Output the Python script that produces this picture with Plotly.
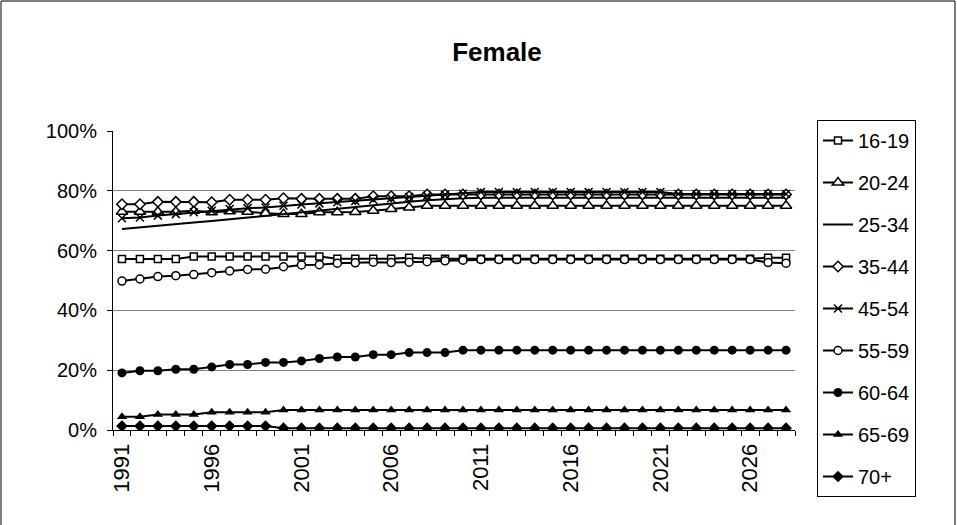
import plotly.graph_objects as go

years = list(range(1991, 2029))

s16_19 = [57.2, 57.2, 57.2, 57.2, 58.0, 58.0, 58.0, 58.0, 58.0, 58.0, 58.0, 58.0,
          57.3, 57.3, 57.3, 57.3, 57.6, 57.3, 57.3, 57.3, 57.3, 57.3, 57.3, 57.3,
          57.3, 57.3, 57.3, 57.3, 57.3, 57.3, 57.3, 57.3, 57.3, 57.3, 57.3, 57.3,
          57.6, 57.6]
s20_24 = [73.0, 73.0, 73.0, 73.0, 73.3, 72.8, 73.2, 73.0, 72.5, 72.2, 72.2, 72.8,
          72.8, 72.9, 73.3, 73.9, 74.4, 75.0, 75.0, 75.0, 75.0, 75.0, 75.0, 75.0,
          75.0, 75.0, 75.0, 75.0, 75.0, 75.0, 75.0, 75.0, 75.0, 75.0, 75.0, 75.0,
          75.0, 75.0]
s25_34 = [67.2, 67.8, 68.3, 68.8, 69.4, 69.9, 70.5, 71.0, 71.6, 72.1, 72.8, 73.4,
          74.0, 74.6, 75.2, 75.8, 76.3, 76.8, 77.2, 77.5, 77.7, 77.7, 77.7, 77.7,
          77.7, 77.7, 77.7, 77.7, 77.7, 77.7, 77.7, 77.7, 77.7, 77.7, 77.7, 77.7,
          77.7, 77.7]
s35_44 = [75.5, 75.5, 76.3, 76.3, 76.3, 76.2, 77.0, 77.0, 77.0, 77.5, 77.3, 77.3,
          77.3, 77.3, 78.2, 78.2, 78.2, 78.8, 78.8, 78.8, 78.8, 78.8, 78.8, 78.8,
          78.8, 78.8, 78.8, 78.8, 78.8, 78.8, 78.8, 78.8, 78.8, 78.8, 78.8, 78.8,
          78.8, 78.8]
s45_54 = [70.8, 71.1, 71.7, 72.2, 72.8, 73.3, 73.9, 74.2, 74.4, 75.0, 75.4, 75.8,
          76.2, 76.6, 77.0, 77.5, 77.9, 78.3, 78.7, 79.0, 79.6, 79.6, 79.6, 79.6,
          79.6, 79.6, 79.6, 79.6, 79.6, 79.6, 79.6, 78.9, 78.9, 78.9, 78.9, 78.9,
          78.9, 78.9]
s55_59 = [49.8, 50.5, 51.3, 51.6, 52.0, 52.6, 53.2, 53.7, 53.8, 54.6, 55.2, 55.3,
          55.8, 55.9, 56.1, 56.0, 56.1, 56.3, 56.6, 56.8, 57.0, 57.0, 57.0, 57.0,
          57.0, 57.0, 57.0, 57.0, 57.0, 57.0, 57.0, 57.0, 57.0, 57.0, 57.0, 57.0,
          56.0, 55.8]
s60_64 = [19.1, 19.8, 19.8, 20.3, 20.3, 21.1, 21.9, 21.9, 22.6, 22.6, 23.1, 23.9,
          24.4, 24.4, 25.2, 25.2, 25.9, 25.9, 25.9, 26.7, 26.7, 26.7, 26.7, 26.7,
          26.7, 26.7, 26.7, 26.7, 26.7, 26.7, 26.7, 26.7, 26.7, 26.7, 26.7, 26.7,
          26.7, 26.7]
s65_69 = [4.4, 4.4, 5.2, 5.2, 5.2, 5.9, 5.9, 5.9, 5.9, 6.7, 6.7, 6.7,
          6.7, 6.7, 6.7, 6.7, 6.7, 6.7, 6.7, 6.7, 6.7, 6.7, 6.7, 6.7,
          6.7, 6.7, 6.7, 6.7, 6.7, 6.7, 6.7, 6.7, 6.7, 6.7, 6.7, 6.7,
          6.7, 6.7]
s70p = [1.3, 1.3, 1.3, 1.3, 1.3, 1.3, 1.3, 1.3, 1.3, 0.6, 0.6, 0.6,
        0.6, 0.6, 0.6, 0.6, 0.6, 0.6, 0.6, 0.6, 0.6, 0.6, 0.6, 0.6,
        0.6, 0.6, 0.6, 0.6, 0.6, 0.6, 0.6, 0.6, 0.6, 0.6, 0.6, 0.6,
        0.6, 0.6]

series_names = ["16-19", "20-24", "25-34", "35-44", "45-54", "55-59", "60-64", "65-69", "70+"]
series_values = [s16_19, s20_24, s25_34, s35_44, s45_54, s55_59, s60_64, s65_69, s70p]
x_tick_years = [1991, 1996, 2001, 2006, 2011, 2016, 2021, 2026]
y_ticks = [0, 0.2, 0.4, 0.6, 0.8, 1.0]

styles = {
    "16-19": dict(symbol="square", size=7, color="white", line=dict(color="black", width=1.5)),
    "20-24": dict(symbol="triangle-up", size=10, color="white", line=dict(color="black", width=1.5)),
    "25-34": None,
    "35-44": dict(symbol="diamond", size=8, color="white", line=dict(color="black", width=1.5)),
    "45-54": dict(symbol="x-thin", size=8, color="black", line=dict(color="black", width=1.5)),
    "55-59": dict(symbol="circle", size=8, color="white", line=dict(color="black", width=1.5)),
    "60-64": dict(symbol="circle", size=9, color="black", line=dict(color="black", width=0)),
    "65-69": dict(symbol="triangle-up", size=9, color="black", line=dict(color="black", width=0)),
    "70+": dict(symbol="diamond", size=9, color="black", line=dict(color="black", width=0)),
}

FONT = "Arial, Liberation Sans, sans-serif"
cats = [str(y) for y in years]
fig = go.Figure()
for name, vals in zip(series_names, series_values):
    st = styles[name]
    fig.add_trace(go.Scatter(
        x=cats, y=[v / 100 for v in vals], name=name, legendgroup=name,
        mode="lines" if st is None else "lines+markers",
        line=dict(color="black", width=2),
        marker=st if st is not None else None,
    ))

W, H = 957, 525
L, R, T, B = 113, 162, 131, 95
pw, ph = W - L - R, H - T - B

tick_text = [c if int(c) in x_tick_years else "" for c in cats]

fig.update_layout(
    width=W, height=H,
    margin=dict(l=L, r=R, t=T, b=B),
    paper_bgcolor="white", plot_bgcolor="white",
    font=dict(family=FONT, size=20, color="black"),
    title=dict(text="<b>Female</b>", x=497 / W, xref="container", xanchor="center",
               y=1 - 52 / H, yref="container", yanchor="middle",
               font=dict(family=FONT, size=26, color="black")),
    showlegend=True,
    legend=dict(x=(817 - L) / pw, xanchor="left", y=(H - B - 120) / ph, yanchor="top",
                bordercolor="black", borderwidth=1, bgcolor="white",
                font=dict(family=FONT, size=20), tracegroupgap=13,
                traceorder="grouped", maxheight=1.0),
    xaxis=dict(type="category", categoryorder="array", categoryarray=cats,
               range=[-0.5, len(cats) - 0.5], autorange=False,
               tickmode="array", tickvals=cats, ticktext=tick_text, tickangle=-90,
               tickson="boundaries", ticks="outside", ticklen=5, tickcolor="black",
               tickwidth=1, showgrid=False, showline=True, linecolor="black", linewidth=1,
               zeroline=False, tickfont=dict(family=FONT, size=22), ticklabelstandoff=4),
    yaxis=dict(range=[0, 1], tickvals=y_ticks, tickformat=".0%", ticks="outside",
               ticklen=5, tickcolor="black", showline=True, linecolor="black", linewidth=1,
               showgrid=True, gridcolor="#808080", gridwidth=1, zeroline=False,
               tickfont=dict(family=FONT, size=20), ticklabelstandoff=6),
)

fig.add_shape(type="rect", xref="paper", yref="paper",
              x0=(1 - L) / pw, x1=(W - 2 - L) / pw,
              y0=(B - (H - 2)) / ph, y1=(H - 1 - B) / ph,
              line=dict(color="black", width=1), fillcolor="rgba(0,0,0,0)", layer="below")

fig.write_html("out.html", config={"displayModeBar": False},
               post_script="document.body.style.margin='0';document.body.style.overflow='hidden';")
